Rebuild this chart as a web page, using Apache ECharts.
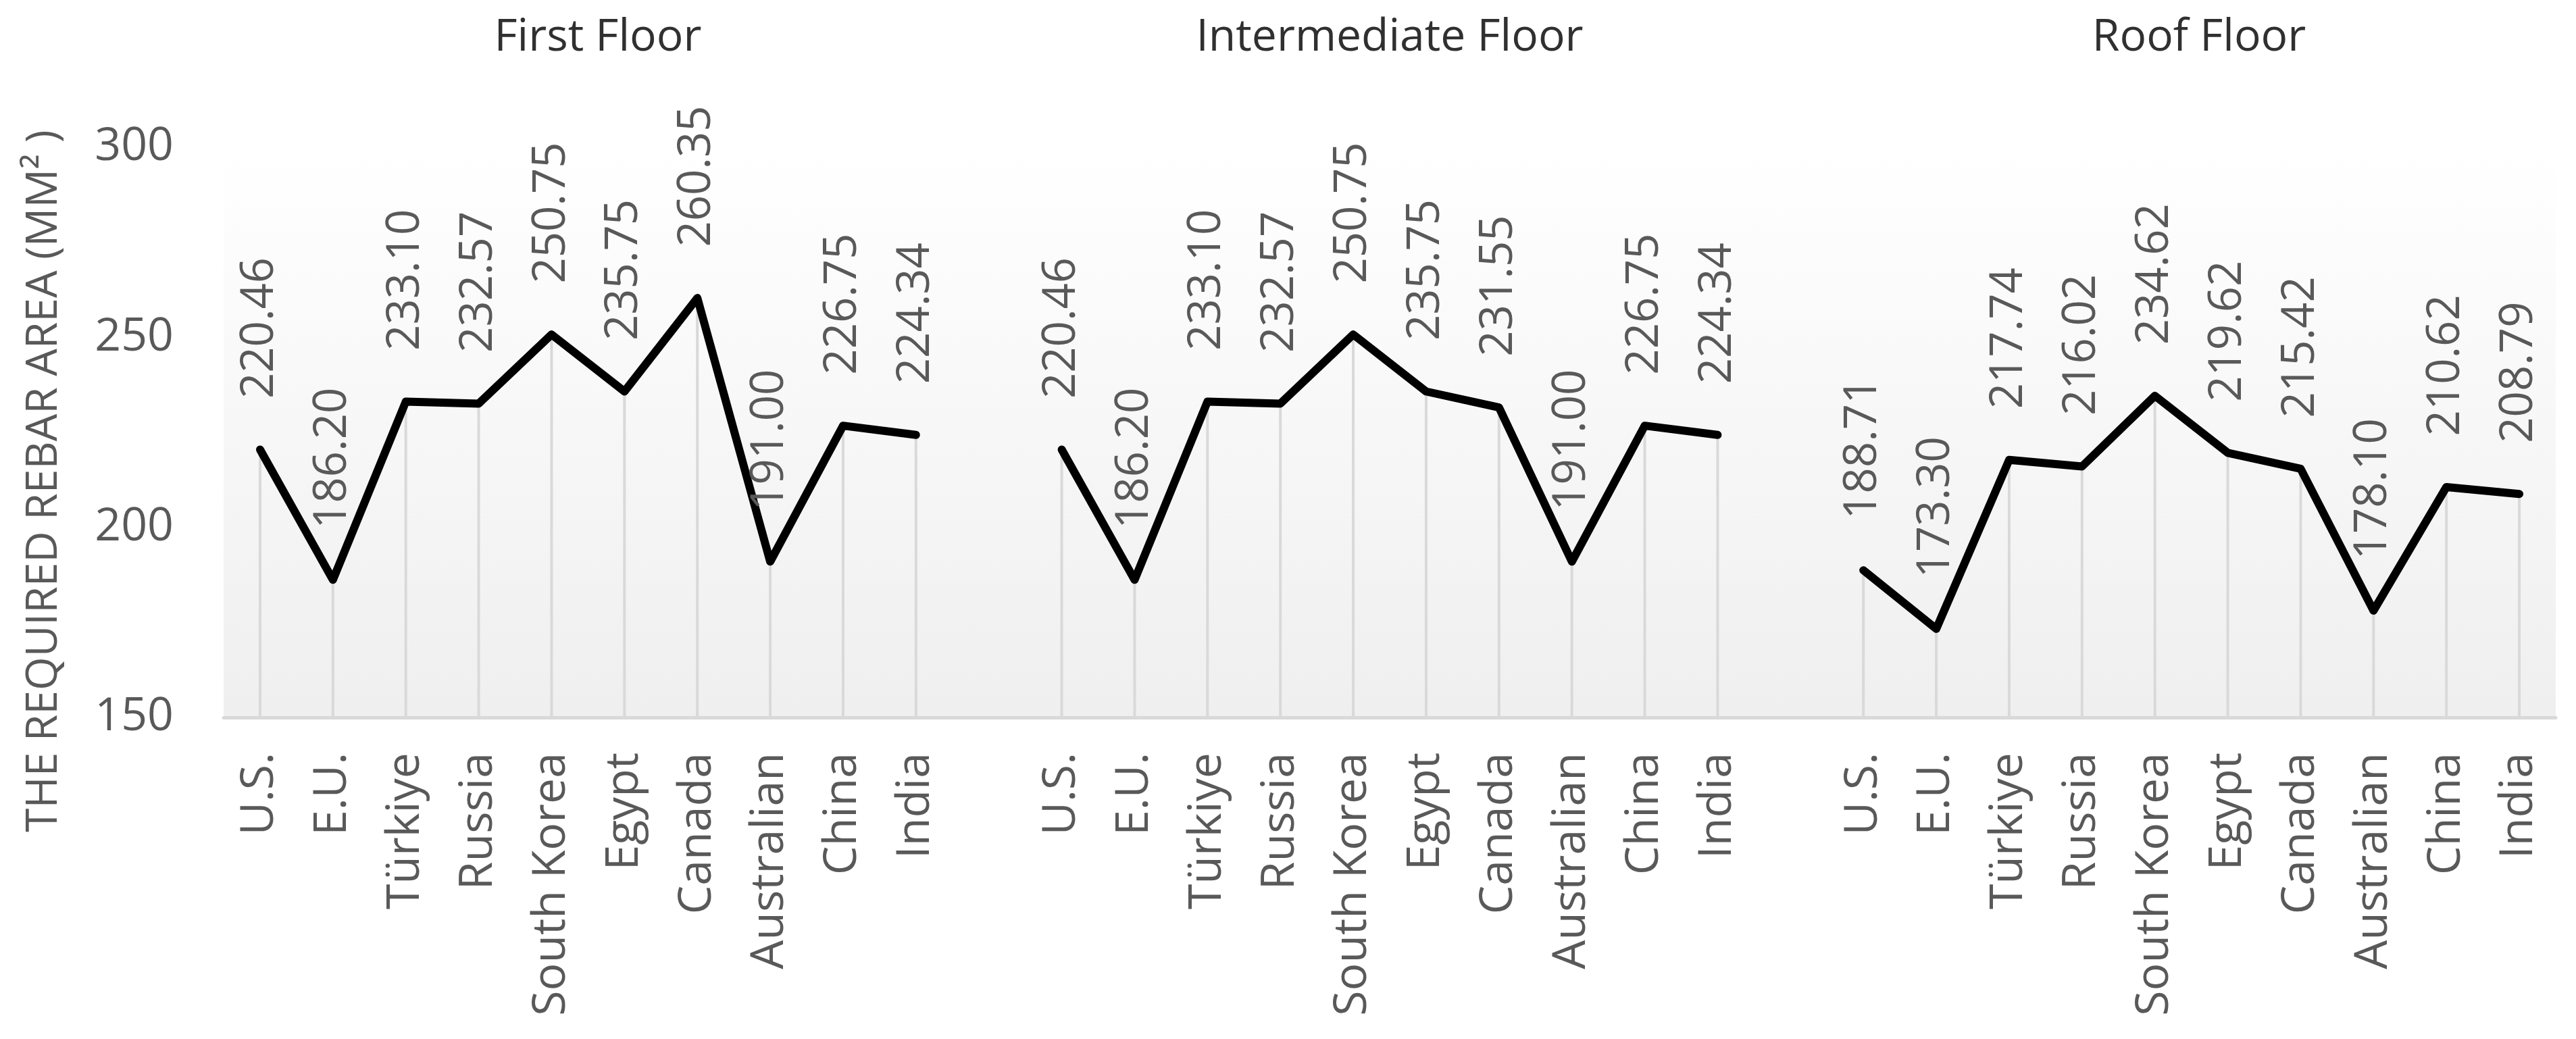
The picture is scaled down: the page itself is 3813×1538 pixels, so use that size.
<!DOCTYPE html>
<html>
<head>
<meta charset="utf-8">
<script src="https://cdn.jsdelivr.net/npm/echarts@6/dist/echarts.min.js"></script>
<style>
html,body{margin:0;padding:0;background:#ffffff;}
#chart{width:3813px;height:1538px;}
</style>
</head>
<body>
<div id="chart"></div>
<script>
// ---- data ----
const countries = ['U.S.', 'E.U.', 'Türkiye', 'Russia', 'South Korea', 'Egypt', 'Canada', 'Australian', 'China', 'India'];
const panelTitles = ['First Floor', 'Intermediate Floor', 'Roof Floor'];
const firstFloor = [220.46, 186.20, 233.10, 232.57, 250.75, 235.75, 260.35, 191.00, 226.75, 224.34];
const intermediateFloor = [220.46, 186.20, 233.10, 232.57, 250.75, 235.75, 231.55, 191.00, 226.75, 224.34];
const roofFloor = [188.71, 173.30, 217.74, 216.02, 234.62, 219.62, 215.42, 178.10, 210.62, 208.79];
const yTicks = [150, 200, 250, 300];
const yAxisTitle = 'THE REQUIRED REBAR AREA (MM² )';

// ---- build one category axis with a blank slot between panels ----
const groups = [firstFloor, intermediateFloor, roofFloor];
const categories = [];
const values = [];
groups.forEach((g, gi) => {
  if (gi > 0) { categories.push(''); values.push(null); }
  countries.forEach((c, i) => { categories.push(c); values.push(g[i]); });
});

const FONT = '"Open Sans", "Noto Sans", sans-serif';
const chart = echarts.init(document.getElementById('chart'), null, {renderer: 'canvas'});

const titleX = [885, 2057, 3255];

const option = {
  animation: false,
  backgroundColor: '#ffffff',
  grid: {
    left: 331, right: 30, top: 218, bottom: 476,
    show: true,
    borderWidth: 0,
    backgroundColor: new echarts.graphic.LinearGradient(0, 0, 0, 1, [
      {offset: 0, color: '#ffffff'},
      {offset: 1, color: '#efefef'}
    ])
  },
  xAxis: {
    type: 'category',
    data: categories,
    boundaryGap: true,
    axisLine: {show: true, lineStyle: {color: '#d9d9d9', width: 5}},
    axisTick: {show: false},
    splitLine: {show: false},
    axisLabel: {
      interval: 0, rotate: 90, margin: 52,
      fontFamily: FONT, fontSize: 68, color: '#595959'
    }
  },
  yAxis: {
    type: 'value',
    min: yTicks[0], max: yTicks[yTicks.length - 1], interval: yTicks[1] - yTicks[0],
    axisLine: {show: false},
    axisTick: {show: false},
    splitLine: {show: false},
    axisLabel: {margin: 74, fontFamily: FONT, fontSize: 68, color: '#595959'}
  },
  graphic: [
    ...panelTitles.map((t, i) => ({
      type: 'text', x: titleX[i], y: 56, silent: true,
      style: {text: t, align: 'center', verticalAlign: 'middle',
              font: '66px ' + FONT, fill: '#303030'}
    })),
    {
      type: 'text', x: 66, y: 712, rotation: Math.PI / 2, silent: true,
      style: {text: yAxisTitle, align: 'center', verticalAlign: 'middle',
              font: '64px ' + FONT, fill: '#595959'}
    }
  ],
  series: [
    {
      type: 'bar',
      data: values,
      barWidth: 4,
      silent: true,
      itemStyle: {color: '#d9d9d9'},
      z: 1
    },
    {
      type: 'line',
      data: values,
      connectNulls: false,
      symbol: 'circle',
      symbolSize: 1,
      itemStyle: {color: '#000000'},
      lineStyle: {color: '#000000', width: 12, cap: 'round', join: 'round'},
      z: 3,
      label: {
        show: true,
        position: 'top',
        distance: 75,
        rotate: 90,
        align: 'left',
        verticalAlign: 'middle',
        fontFamily: FONT,
        fontSize: 67,
        color: '#595959',
        formatter: p => (p.value == null ? '' : Number(p.value).toFixed(2))
      }
    }
  ]
};
chart.setOption(option);
</script>
</body>
</html>
